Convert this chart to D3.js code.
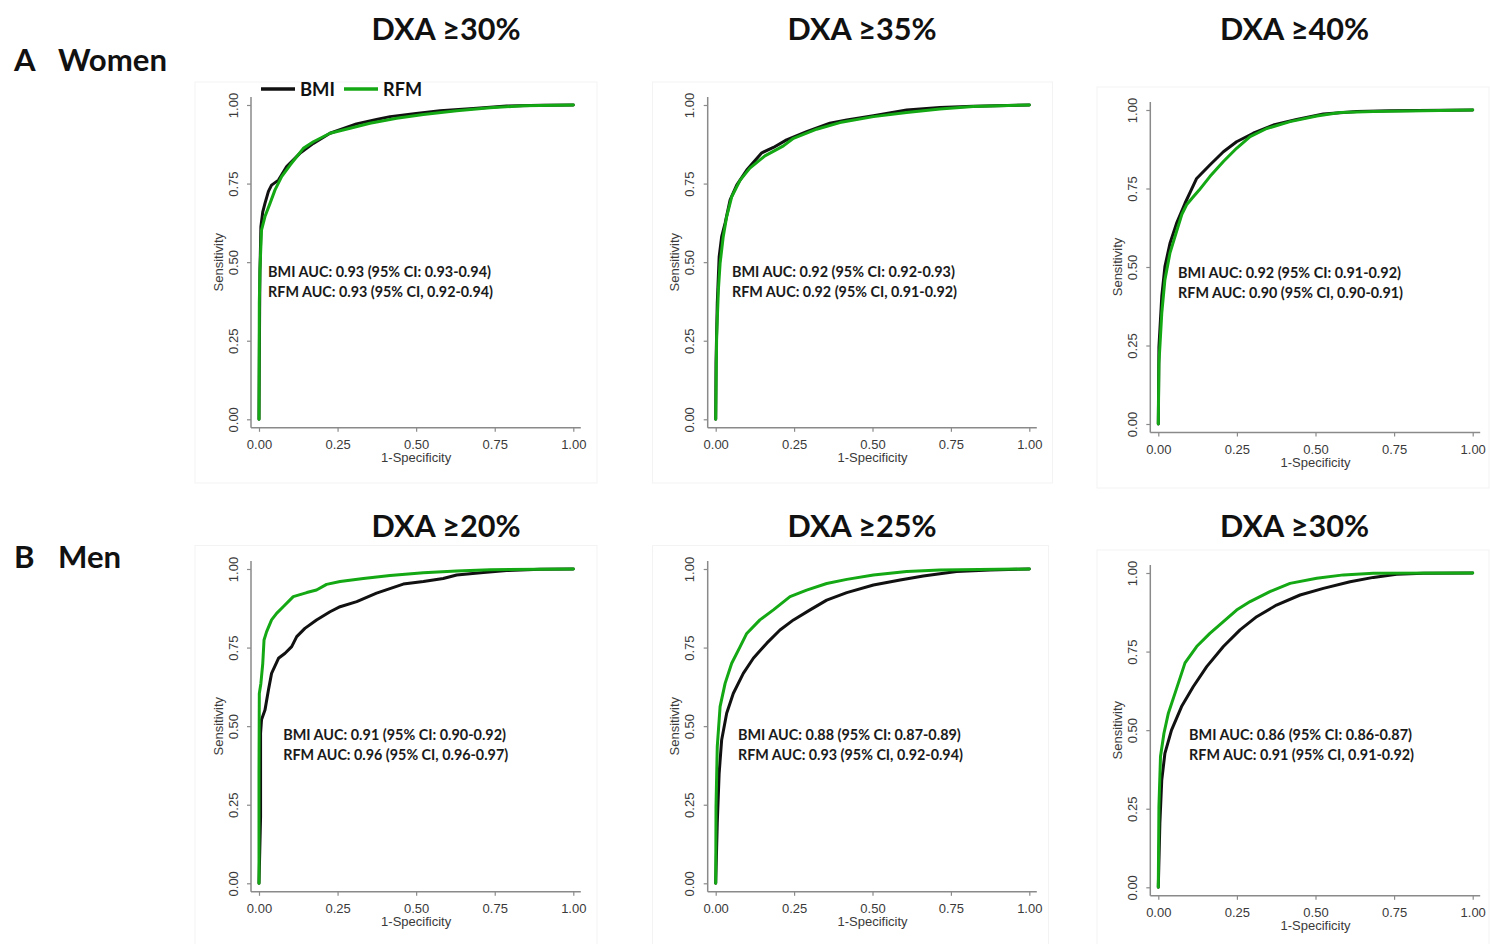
<!DOCTYPE html>
<html><head><meta charset="utf-8">
<script src="https://cdn.jsdelivr.net/npm/d3@7/dist/d3.min.js"></script>
<style>body{margin:0;background:#fff}svg{display:block}</style>
</head><body>
<svg id="chart" width="1490" height="944"></svg>
<script>
// ---------- data ----------
const panelTitles = ["DXA ≥30%", "DXA ≥35%", "DXA ≥40%", "DXA ≥20%", "DXA ≥25%", "DXA ≥30%"];
const rowLetters = ["A", "B"];
const rowNames = ["Women", "Men"];
const seriesNames = ["BMI", "RFM"];
const tickValues = [0, 0.25, 0.5, 0.75, 1];
const xTitle = "1-Specificity";
const yTitle = "Sensitivity";
const bmiAUCText = [
  "BMI AUC: 0.93 (95% CI: 0.93-0.94)",
  "BMI AUC: 0.92 (95% CI: 0.92-0.93)",
  "BMI AUC: 0.92 (95% CI: 0.91-0.92)",
  "BMI AUC: 0.91 (95% CI: 0.90-0.92)",
  "BMI AUC: 0.88 (95% CI: 0.87-0.89)",
  "BMI AUC: 0.86 (95% CI: 0.86-0.87)"
];
const rfmAUCText = [
  "RFM AUC: 0.93 (95% CI, 0.92-0.94)",
  "RFM AUC: 0.92 (95% CI, 0.91-0.92)",
  "RFM AUC: 0.90 (95% CI, 0.90-0.91)",
  "RFM AUC: 0.96 (95% CI, 0.96-0.97)",
  "RFM AUC: 0.93 (95% CI, 0.92-0.94)",
  "RFM AUC: 0.91 (95% CI, 0.91-0.92)"
];

// ROC curves: [1-specificity, sensitivity]
const women30_bmi = [[0,0],[0.002,0.35],[0.003,0.47],[0.005,0.56],[0.006,0.613],[0.012,0.66],[0.019,0.687],[0.03,0.725],[0.04,0.745],[0.062,0.761],[0.088,0.804],[0.13,0.846],[0.173,0.878],[0.226,0.91],[0.31,0.94],[0.374,0.954],[0.417,0.963],[0.5,0.973],[0.576,0.982],[0.682,0.989],[0.788,0.997],[0.9,0.999],[1,1]];
const women30_rfm = [[0,0],[0.001,0.369],[0.003,0.475],[0.008,0.602],[0.019,0.645],[0.035,0.687],[0.051,0.73],[0.072,0.772],[0.099,0.809],[0.141,0.862],[0.173,0.883],[0.226,0.91],[0.29,0.926],[0.353,0.942],[0.438,0.958],[0.523,0.97],[0.629,0.982],[0.735,0.991],[0.841,0.998],[1,1]];
const women35_bmi = [[0,0],[0.001,0.178],[0.005,0.369],[0.011,0.517],[0.019,0.581],[0.03,0.624],[0.046,0.698],[0.067,0.745],[0.099,0.793],[0.147,0.848],[0.184,0.865],[0.226,0.889],[0.29,0.915],[0.364,0.942],[0.418,0.952],[0.503,0.966],[0.609,0.984],[0.715,0.992],[0.821,0.996],[1,1]];
const women35_rfm = [[0,0],[0.003,0.263],[0.0085,0.411],[0.014,0.496],[0.024,0.581],[0.035,0.645],[0.051,0.708],[0.078,0.761],[0.109,0.799],[0.157,0.838],[0.216,0.87],[0.248,0.894],[0.322,0.923],[0.396,0.944],[0.503,0.963],[0.609,0.976],[0.715,0.987],[0.821,0.995],[1,1]];
const women40_bmi = [[0,0],[0.002,0.246],[0.011,0.406],[0.021,0.501],[0.037,0.575],[0.058,0.639],[0.085,0.703],[0.122,0.782],[0.164,0.825],[0.207,0.867],[0.249,0.899],[0.302,0.926],[0.366,0.952],[0.44,0.97],[0.525,0.987],[0.631,0.995],[0.737,0.998],[1,1]];
const women40_rfm = [[0,0],[0.002,0.193],[0.011,0.352],[0.021,0.459],[0.037,0.544],[0.058,0.613],[0.075,0.668],[0.09,0.698],[0.11,0.722],[0.13,0.745],[0.164,0.788],[0.207,0.836],[0.249,0.878],[0.292,0.915],[0.345,0.941],[0.419,0.963],[0.504,0.981],[0.578,0.992],[0.684,0.995],[0.843,0.998],[1,1]];
const men20_bmi = [[0,0],[0.005,0.212],[0.005,0.477],[0.008,0.52],[0.019,0.551],[0.03,0.615],[0.04,0.668],[0.062,0.716],[0.083,0.732],[0.104,0.753],[0.12,0.785],[0.146,0.811],[0.183,0.838],[0.226,0.864],[0.258,0.88],[0.311,0.896],[0.374,0.923],[0.459,0.952],[0.523,0.96],[0.586,0.97],[0.629,0.981],[0.714,0.989],[0.788,0.995],[0.894,0.999],[1,1]];
const men20_rfm = [[0,0],[0,0.35],[0.001,0.604],[0.006,0.636],[0.012,0.7],[0.016,0.774],[0.024,0.8],[0.04,0.838],[0.056,0.859],[0.077,0.88],[0.109,0.912],[0.152,0.925],[0.183,0.933],[0.215,0.951],[0.258,0.96],[0.332,0.97],[0.417,0.979],[0.523,0.988],[0.629,0.994],[0.735,0.998],[1,1]];
const men25_bmi = [[0,0],[0.005,0.191],[0.011,0.35],[0.019,0.456],[0.035,0.541],[0.056,0.604],[0.088,0.668],[0.12,0.716],[0.163,0.764],[0.205,0.806],[0.248,0.838],[0.301,0.87],[0.354,0.901],[0.418,0.925],[0.503,0.949],[0.588,0.965],[0.662,0.978],[0.768,0.992],[0.875,0.997],[1,1]];
const men25_rfm = [[0,0],[0.001,0.244],[0.005,0.435],[0.014,0.562],[0.03,0.636],[0.051,0.7],[0.078,0.753],[0.099,0.795],[0.141,0.838],[0.184,0.87],[0.237,0.912],[0.29,0.933],[0.354,0.954],[0.418,0.967],[0.503,0.981],[0.609,0.992],[0.715,0.997],[1,1]];
const men30_bmi = [[0,0],[0.005,0.204],[0.011,0.341],[0.021,0.426],[0.042,0.5],[0.074,0.575],[0.111,0.638],[0.154,0.702],[0.207,0.766],[0.26,0.819],[0.313,0.861],[0.376,0.898],[0.451,0.93],[0.525,0.951],[0.61,0.972],[0.684,0.986],[0.758,0.996],[0.843,0.999],[1,1]];
const men30_rfm = [[0,0],[0.002,0.257],[0.007,0.416],[0.018,0.49],[0.032,0.554],[0.053,0.617],[0.085,0.714],[0.122,0.766],[0.164,0.808],[0.207,0.845],[0.249,0.882],[0.292,0.909],[0.355,0.941],[0.419,0.967],[0.504,0.983],[0.589,0.994],[0.684,0.999],[1,1]];

const bmiCurves = [women30_bmi, women35_bmi, women40_bmi, men20_bmi, men25_bmi, men30_bmi];
const rfmCurves = [women30_rfm, women35_rfm, women40_rfm, men20_rfm, men25_rfm, men30_rfm];

// ---------- layout ----------
const seriesColors = ["#111111", "#14a814"];
const layout = [
  {x0:259,   x1:573.3,  yt:105, yb:419.3, box:[195,82,402,401],   ann:[0.029,0.469]},
  {x0:715.7, x1:1029.3, yt:105, yb:419.3, box:[652.5,82,400,401], ann:[0.052,0.469]},
  {x0:1158.3,x1:1472.7, yt:110, yb:424,   box:[1097,87,392,401],  ann:[0.063,0.482]},
  {x0:259,   x1:573.3,  yt:569, yb:883.3, box:[195,545.5,402,410],ann:[0.077,0.472]},
  {x0:715.7, x1:1029.3, yt:569, yb:883.3, box:[652.5,545.5,396,410],ann:[0.071,0.472]},
  {x0:1158.3,x1:1472.7, yt:573, yb:887.3, box:[1097,550,392,410], ann:[0.098,0.485]}
];
const titleX = [446, 862, 1294.5];
const titleY = [28, 525];
const rowLabelY = [59, 556];

const svg = d3.select("#chart");
const sans = "'Liberation Sans', Arial, sans-serif";
const boldFont = "Lato, 'Open Sans', sans-serif";

function fit(sel, target) {
  const base = parseFloat(sel.attr("font-size"));
  const w = sel.node().getComputedTextLength();
  sel.attr("font-size", (base * target / w).toFixed(2));
}

// titles
panelTitles.forEach((t, i) => {
  const tt = svg.append("text")
    .attr("x", titleX[i % 3]).attr("y", titleY[Math.floor(i / 3)])
    .attr("text-anchor", "middle").attr("dominant-baseline", "central")
    .attr("font-family", boldFont).attr("font-weight", "bold").attr("font-size", 30)
    .attr("fill", "#111").text(t);
  fit(tt, 149);
});
let rowFont = 30;
rowNames.forEach((n, r) => {
  const nm = svg.append("text").attr("x", 58).attr("y", rowLabelY[r])
    .attr("dominant-baseline", "central")
    .attr("font-family", boldFont).attr("font-weight", "bold").attr("font-size", 30)
    .attr("fill", "#111").text(n);
  if (r === 0) { fit(nm, 109); rowFont = nm.attr("font-size"); } else nm.attr("font-size", rowFont);
  svg.append("text").attr("x", 14).attr("y", rowLabelY[r])
    .attr("dominant-baseline", "central")
    .attr("font-family", boldFont).attr("font-weight", "bold").attr("font-size", rowFont)
    .attr("fill", "#111").text(rowLetters[r]);
});

layout.forEach((L, i) => {
  const g = svg.append("g");
  g.append("rect").attr("x", L.box[0]).attr("y", L.box[1]).attr("width", L.box[2]).attr("height", L.box[3])
    .attr("fill", "none").attr("stroke", "#f3f3f3").attr("stroke-width", 1);

  const x = d3.scaleLinear().domain([0, 1]).range([L.x0, L.x1]);
  const y = d3.scaleLinear().domain([0, 1]).range([L.yb, L.yt]);
  const axY = L.yb + 8.5, axX = L.x0 - 8;

  // x axis
  const xa = g.append("g").attr("transform", `translate(0,${axY})`)
    .call(d3.axisBottom(x).tickValues(tickValues).tickFormat(d3.format(".2f")).tickSize(4).tickPadding(8));
  xa.select(".domain").remove();
  xa.selectAll(".tick line").attr("stroke", "#8a8a8a").attr("stroke-width", 1.2);
  xa.selectAll(".tick text").attr("font-family", sans).attr("font-size", 13).attr("fill", "#3a3a3a");
  g.append("line").attr("x1", axX).attr("x2", L.x1 + 7.5).attr("y1", axY).attr("y2", axY)
    .attr("stroke", "#8a8a8a").attr("stroke-width", 1.5);

  // y axis
  const ya = g.append("g").attr("transform", `translate(${axX},0)`)
    .call(d3.axisLeft(y).tickValues(tickValues).tickFormat(d3.format(".2f")).tickSize(4));
  ya.select(".domain").remove();
  ya.selectAll(".tick line").attr("stroke", "#8a8a8a").attr("stroke-width", 1.2);
  ya.selectAll(".tick text").attr("font-family", sans).attr("font-size", 13).attr("fill", "#3a3a3a")
    .attr("x", 0).attr("dy", null).attr("dominant-baseline", "central")
    .attr("text-anchor", "middle").attr("transform", "translate(-18,0) rotate(-90)");
  g.append("line").attr("x1", axX).attr("x2", axX).attr("y1", axY).attr("y2", L.yt - 8)
    .attr("stroke", "#8a8a8a").attr("stroke-width", 1.5);

  // axis titles
  g.append("text").attr("x", x(0.5)).attr("y", axY + 30).attr("text-anchor", "middle")
    .attr("dominant-baseline", "central").attr("font-family", sans).attr("font-size", 13)
    .attr("fill", "#3a3a3a").text(xTitle);
  g.append("text").attr("transform", `translate(${axX - 33},${y(0.5)}) rotate(-90)`)
    .attr("text-anchor", "middle").attr("dominant-baseline", "central")
    .attr("font-family", sans).attr("font-size", 13).attr("fill", "#3a3a3a").text(yTitle);

  // curves
  const line = d3.line().x(d => x(d[0])).y(d => y(d[1])).curve(d3.curveLinear);
  [bmiCurves[i], rfmCurves[i]].forEach((c, s) => {
    g.append("path").datum(c).attr("d", line).attr("fill", "none")
      .attr("stroke", seriesColors[s]).attr("stroke-width", 3)
      .attr("stroke-linejoin", "round").attr("stroke-linecap", "round");
  });

  // annotations
  [bmiAUCText[i], rfmAUCText[i]].forEach((t, k) => {
    const a = g.append("text").attr("x", x(L.ann[0])).attr("y", y(L.ann[1]) + k * 20)
      .attr("dominant-baseline", "central").attr("font-family", boldFont).attr("font-weight", "bold")
      .attr("font-size", 13).attr("fill", "#1a1a1a").text(t);
    fit(a, k === 0 ? 223 : 225);
  });

  // legend (first panel only)
  if (i === 0) {
    const lg = g.append("g");
    const items = [{x: L.x0 + 2, tx: L.x0 + 41}, {x: L.x0 + 85, tx: L.x0 + 124}];
    seriesNames.forEach((n, s) => {
      lg.append("line").attr("x1", items[s].x).attr("x2", items[s].x + 34).attr("y1", 89).attr("y2", 89)
        .attr("stroke", seriesColors[s]).attr("stroke-width", 3.5);
      const lt = lg.append("text").attr("x", items[s].tx).attr("y", 89).attr("dominant-baseline", "central")
        .attr("font-family", boldFont).attr("font-weight", "bold").attr("font-size", 19)
        .attr("fill", "#111").text(n);
      fit(lt, s === 0 ? 35 : 39);
    });
  }
});
</script>
</body></html>
